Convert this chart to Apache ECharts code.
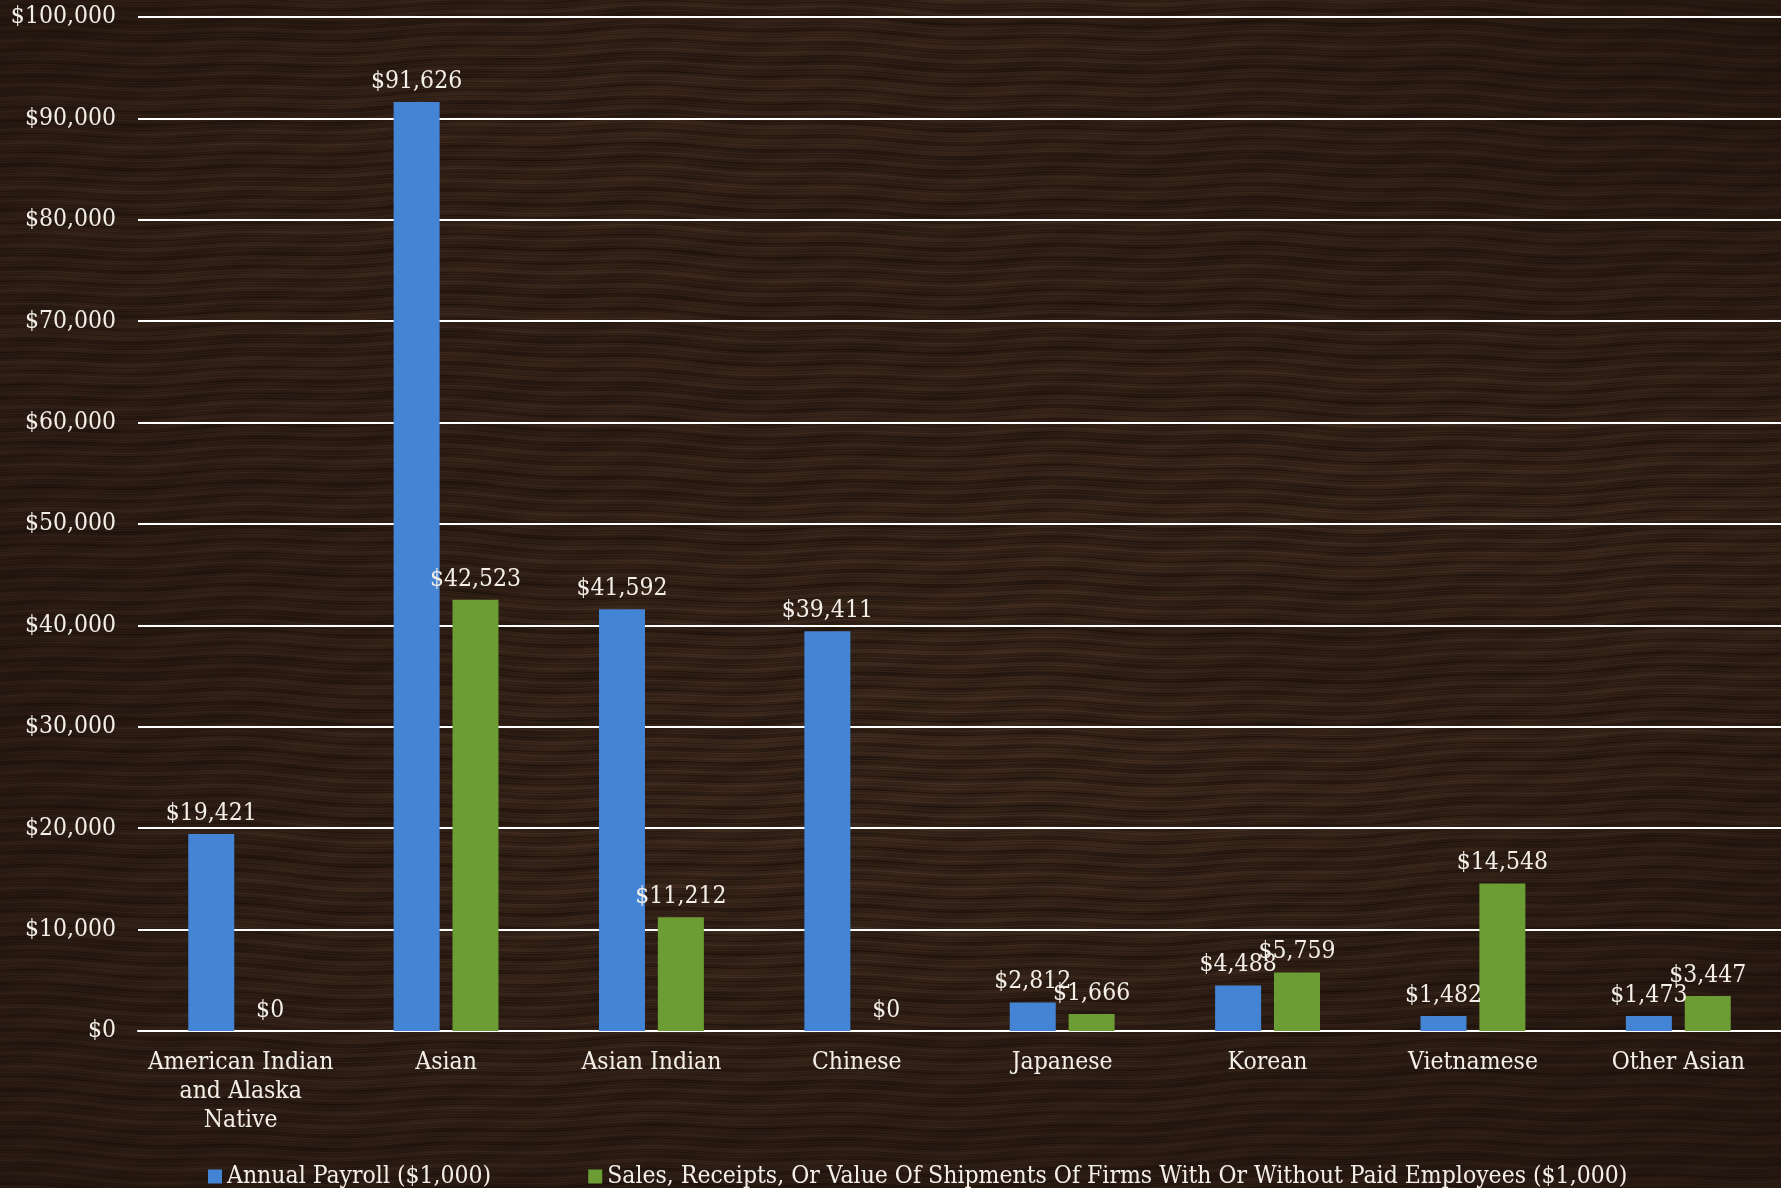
<!DOCTYPE html>
<html>
<head>
<meta charset="utf-8">
<script src="https://cdn.jsdelivr.net/npm/echarts@6/dist/echarts.min.js"></script>
<style>
html,body{margin:0;padding:0;width:1781px;height:1188px;overflow:hidden;background:#2e1d15;}
#chart{width:1781px;height:1188px;background-size:1781px 1188px;}
</style>
</head>
<body>
<div id="chart"></div>
<script>
const categories = ["American Indian and Alaska Native","Asian","Asian Indian","Chinese","Japanese","Korean","Vietnamese","Other Asian"];
const payroll = [19421, 91626, 41592, 39411, 2812, 4488, 1482, 1473];
const sales = [0, 42523, 11212, 0, 1666, 5759, 14548, 3447];
const seriesNames = ["Annual Payroll ($1,000)", "Sales, Receipts, Or Value Of Shipments Of Firms With Or Without Paid Employees ($1,000)"];
const yTicks = {min: 0, max: 100000, interval: 10000};

// decorative wood-like backdrop (deterministic, sine based)
(function () {
  const W = 1781, H = 1188;
  const c = document.createElement('canvas');
  c.width = W; c.height = H;
  const ctx = c.getContext('2d');
  const img = ctx.createImageData(W, H);
  const d = img.data;
  const dark = [24, 14, 9], light = [82, 56, 40];
  for (let y = 0; y < H; y++) {
    for (let x = 0; x < W; x++) {
      const warp = 9 * Math.sin(x * 0.0023 + y * 0.0031) + 4 * Math.sin(x * 0.0087 + y * 0.006 + 1.7)
                 + 2 * Math.sin(x * 0.031 + 0.4);
      const yy = y + warp;
      let g = 0.52 + 0.13 * Math.sin(yy * 0.43) + 0.11 * Math.sin(yy * 0.977 + x * 0.004)
            + 0.09 * Math.sin(yy * 2.31 + x * 0.013) + 0.07 * Math.sin(yy * 3.73 + x * 0.029)
            + 0.06 * Math.sin(x * 0.061 + yy * 0.17) + 0.05 * Math.sin(yy * 0.137 + x * 0.0011);
      const dx = (x - 950) / 1200, dy = (y - 560) / 850;
      let L = 0.82 - 0.4 * (dx * dx + dy * dy) + 0.08 * Math.sin(y * 0.0071 + x * 0.0023);
      const kx = (x - 1310) / 230, ky = (y - 650) / 75;
      L -= 0.22 * Math.exp(-(kx * kx + ky * ky));
      const t = Math.max(0, Math.min(1, g * L));
      const i = (y * W + x) * 4;
      d[i] = dark[0] + (light[0] - dark[0]) * t;
      d[i + 1] = dark[1] + (light[1] - dark[1]) * t;
      d[i + 2] = dark[2] + (light[2] - dark[2]) * t;
      d[i + 3] = 255;
    }
  }
  ctx.putImageData(img, 0, 0);
  document.getElementById('chart').style.backgroundImage = 'url(' + c.toDataURL() + ')';
})();

const FONT = "'DejaVu Serif Condensed', 'DejaVu Serif', serif";
const TXT = '#f3efe8';
const FS = 24.5;
const fmt = v => '$' + Number(v).toLocaleString('en-US');
const wrapMap = {"American Indian and Alaska Native": "American Indian\nand Alaska\nNative"};

const chart = echarts.init(document.getElementById('chart'), null, {renderer: 'canvas'});
chart.setOption({
  backgroundColor: 'transparent',
  animation: false,
  textStyle: {fontFamily: FONT, color: TXT},
  grid: {left: 138, right: 0, top: 17, bottom: 157, containLabel: false},
  legend: {
    top: 1159, left: 203,
    itemWidth: 14, itemHeight: 14, itemGap: 97,
    icon: 'rect',
    textStyle: {fontFamily: FONT, color: TXT, fontSize: FS},
    data: seriesNames
  },
  xAxis: {
    type: 'category',
    data: categories,
    axisLine: {show: true, lineStyle: {color: '#ffffff', width: 2}},
    axisTick: {show: false},
    axisLabel: {
      interval: 0, margin: 17,
      fontFamily: FONT, color: TXT, fontSize: FS, lineHeight: 29,
      formatter: v => wrapMap[v] || v
    }
  },
  yAxis: {
    type: 'value',
    min: yTicks.min, max: yTicks.max, interval: yTicks.interval,
    axisLine: {show: false},
    axisTick: {show: false},
    splitLine: {lineStyle: {color: '#ffffff', width: 2}},
    axisLabel: {fontFamily: FONT, color: TXT, fontSize: FS, margin: 22, formatter: fmt}
  },
  series: [
    {
      name: seriesNames[0], type: 'bar', data: payroll,
      barWidth: 46, barGap: '28%',
      itemStyle: {color: '#4484d5'},
      label: {show: true, position: 'top', distance: 8, fontFamily: FONT, color: TXT, fontSize: FS, formatter: p => fmt(p.value)}
    },
    {
      name: seriesNames[1], type: 'bar', data: sales,
      barWidth: 46,
      itemStyle: {color: '#6b9d34'},
      label: {show: true, position: 'top', distance: 8, fontFamily: FONT, color: TXT, fontSize: FS, formatter: p => fmt(p.value)}
    }
  ]
});
</script>
</body>
</html>
